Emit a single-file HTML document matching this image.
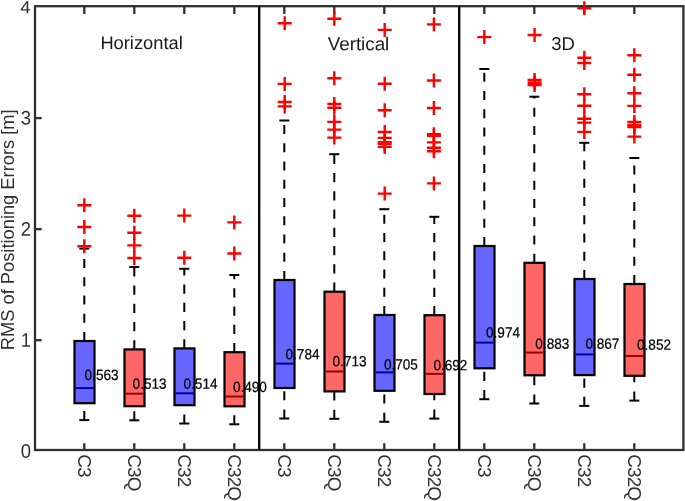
<!DOCTYPE html>
<html lang="en"><head><meta charset="utf-8"><title>RMS of Positioning Errors</title>
<style>html,body{margin:0;padding:0;background:#fff;overflow:hidden}svg{display:block}text{font-family:"Liberation Sans",Arial,Helvetica,sans-serif}</style>
</head><body>
<svg width="685" height="501" viewBox="0 0 685 501">
<rect width="685" height="501" fill="#fff"/>
<g stroke="#303030" stroke-width="2.3" fill="none">
<rect x="35.0" y="6.2" width="648.4" height="443.8"/>
<line x1="84.3" y1="450.0" x2="84.3" y2="443.2"/>
<line x1="84.3" y1="6.2" x2="84.3" y2="14.0"/>
<line x1="134.3" y1="450.0" x2="134.3" y2="443.2"/>
<line x1="134.3" y1="6.2" x2="134.3" y2="14.0"/>
<line x1="184.3" y1="450.0" x2="184.3" y2="443.2"/>
<line x1="184.3" y1="6.2" x2="184.3" y2="14.0"/>
<line x1="234.3" y1="450.0" x2="234.3" y2="443.2"/>
<line x1="234.3" y1="6.2" x2="234.3" y2="14.0"/>
<line x1="284.3" y1="450.0" x2="284.3" y2="443.2"/>
<line x1="284.3" y1="6.2" x2="284.3" y2="14.0"/>
<line x1="334.3" y1="450.0" x2="334.3" y2="443.2"/>
<line x1="334.3" y1="6.2" x2="334.3" y2="14.0"/>
<line x1="384.3" y1="450.0" x2="384.3" y2="443.2"/>
<line x1="384.3" y1="6.2" x2="384.3" y2="14.0"/>
<line x1="434.3" y1="450.0" x2="434.3" y2="443.2"/>
<line x1="434.3" y1="6.2" x2="434.3" y2="14.0"/>
<line x1="484.3" y1="450.0" x2="484.3" y2="443.2"/>
<line x1="484.3" y1="6.2" x2="484.3" y2="14.0"/>
<line x1="534.3" y1="450.0" x2="534.3" y2="443.2"/>
<line x1="534.3" y1="6.2" x2="534.3" y2="14.0"/>
<line x1="584.3" y1="450.0" x2="584.3" y2="443.2"/>
<line x1="584.3" y1="6.2" x2="584.3" y2="14.0"/>
<line x1="634.3" y1="450.0" x2="634.3" y2="443.2"/>
<line x1="634.3" y1="6.2" x2="634.3" y2="14.0"/>
<line x1="35.0" y1="340.20" x2="41.7" y2="340.20"/>
<line x1="35.0" y1="229.15" x2="41.7" y2="229.15"/>
<line x1="35.0" y1="118.10" x2="41.7" y2="118.10"/>
</g>
<g stroke="#000" stroke-width="2" fill="none">
<line x1="84.3" y1="341.0" x2="84.3" y2="248.6" stroke-dasharray="9.1 9.15"/>
<line x1="84.3" y1="420.1" x2="84.3" y2="403.2" stroke-dasharray="9.1 9.15"/>
<line x1="79.3" y1="248.6" x2="89.3" y2="248.6"/>
<line x1="79.3" y1="420.1" x2="89.3" y2="420.1"/>
</g>
<rect x="74.5" y="341.0" width="20" height="62.2" fill="#6666ff" stroke="#000" stroke-width="2.2"/>
<line x1="75.5" y1="388.1" x2="93.5" y2="388.1" stroke="#000099" stroke-width="2"/>
<g stroke="#000" stroke-width="2" fill="none">
<line x1="134.3" y1="349.4" x2="134.3" y2="267.0" stroke-dasharray="9.1 9.15"/>
<line x1="134.3" y1="420.3" x2="134.3" y2="406.2" stroke-dasharray="9.1 9.15"/>
<line x1="129.3" y1="267.0" x2="139.3" y2="267.0"/>
<line x1="129.3" y1="420.3" x2="139.3" y2="420.3"/>
</g>
<rect x="124.5" y="349.4" width="20" height="56.8" fill="#ff6666" stroke="#000" stroke-width="2.2"/>
<line x1="125.5" y1="393.7" x2="143.5" y2="393.7" stroke="#a00000" stroke-width="2"/>
<g stroke="#000" stroke-width="2" fill="none">
<line x1="184.3" y1="348.4" x2="184.3" y2="268.8" stroke-dasharray="9.1 9.15"/>
<line x1="184.3" y1="423.5" x2="184.3" y2="405.2" stroke-dasharray="9.1 9.15"/>
<line x1="179.3" y1="268.8" x2="189.3" y2="268.8"/>
<line x1="179.3" y1="423.5" x2="189.3" y2="423.5"/>
</g>
<rect x="174.5" y="348.4" width="20" height="56.8" fill="#6666ff" stroke="#000" stroke-width="2.2"/>
<line x1="175.5" y1="393.3" x2="193.5" y2="393.3" stroke="#000099" stroke-width="2"/>
<g stroke="#000" stroke-width="2" fill="none">
<line x1="234.3" y1="352.2" x2="234.3" y2="275.0" stroke-dasharray="9.1 9.15"/>
<line x1="234.3" y1="424.3" x2="234.3" y2="406.3" stroke-dasharray="9.1 9.15"/>
<line x1="229.3" y1="275.0" x2="239.3" y2="275.0"/>
<line x1="229.3" y1="424.3" x2="239.3" y2="424.3"/>
</g>
<rect x="224.5" y="352.2" width="20" height="54.1" fill="#ff6666" stroke="#000" stroke-width="2.2"/>
<line x1="225.5" y1="396.5" x2="243.5" y2="396.5" stroke="#a00000" stroke-width="2"/>
<g stroke="#000" stroke-width="2" fill="none">
<line x1="284.3" y1="280.0" x2="284.3" y2="120.5" stroke-dasharray="9.1 9.15"/>
<line x1="284.3" y1="418.5" x2="284.3" y2="388.0" stroke-dasharray="9.1 9.15"/>
<line x1="279.3" y1="120.5" x2="289.3" y2="120.5"/>
<line x1="279.3" y1="418.5" x2="289.3" y2="418.5"/>
</g>
<rect x="274.5" y="280.0" width="20" height="108.0" fill="#6666ff" stroke="#000" stroke-width="2.2"/>
<line x1="275.5" y1="363.6" x2="293.5" y2="363.6" stroke="#000099" stroke-width="2"/>
<g stroke="#000" stroke-width="2" fill="none">
<line x1="334.3" y1="291.7" x2="334.3" y2="154.2" stroke-dasharray="9.1 9.15"/>
<line x1="334.3" y1="418.8" x2="334.3" y2="391.4" stroke-dasharray="9.1 9.15"/>
<line x1="329.3" y1="154.2" x2="339.3" y2="154.2"/>
<line x1="329.3" y1="418.8" x2="339.3" y2="418.8"/>
</g>
<rect x="324.5" y="291.7" width="20" height="99.7" fill="#ff6666" stroke="#000" stroke-width="2.2"/>
<line x1="325.5" y1="371.5" x2="343.5" y2="371.5" stroke="#a00000" stroke-width="2"/>
<g stroke="#000" stroke-width="2" fill="none">
<line x1="384.3" y1="315.0" x2="384.3" y2="209.2" stroke-dasharray="9.1 9.15"/>
<line x1="384.3" y1="421.8" x2="384.3" y2="390.8" stroke-dasharray="9.1 9.15"/>
<line x1="379.3" y1="209.2" x2="389.3" y2="209.2"/>
<line x1="379.3" y1="421.8" x2="389.3" y2="421.8"/>
</g>
<rect x="374.5" y="315.0" width="20" height="75.8" fill="#6666ff" stroke="#000" stroke-width="2.2"/>
<line x1="375.5" y1="372.4" x2="393.5" y2="372.4" stroke="#000099" stroke-width="2"/>
<g stroke="#000" stroke-width="2" fill="none">
<line x1="434.3" y1="315.2" x2="434.3" y2="216.8" stroke-dasharray="9.1 9.15"/>
<line x1="434.3" y1="418.6" x2="434.3" y2="394.0" stroke-dasharray="9.1 9.15"/>
<line x1="429.3" y1="216.8" x2="439.3" y2="216.8"/>
<line x1="429.3" y1="418.6" x2="439.3" y2="418.6"/>
</g>
<rect x="424.5" y="315.2" width="20" height="78.8" fill="#ff6666" stroke="#000" stroke-width="2.2"/>
<line x1="425.5" y1="373.9" x2="443.5" y2="373.9" stroke="#a00000" stroke-width="2"/>
<g stroke="#000" stroke-width="2" fill="none">
<line x1="484.3" y1="246.0" x2="484.3" y2="69.0" stroke-dasharray="9.1 9.15"/>
<line x1="484.3" y1="399.2" x2="484.3" y2="368.3" stroke-dasharray="9.1 9.15"/>
<line x1="479.3" y1="69.0" x2="489.3" y2="69.0"/>
<line x1="479.3" y1="399.2" x2="489.3" y2="399.2"/>
</g>
<rect x="474.5" y="246.0" width="20" height="122.3" fill="#6666ff" stroke="#000" stroke-width="2.2"/>
<line x1="475.5" y1="342.6" x2="493.5" y2="342.6" stroke="#000099" stroke-width="2"/>
<g stroke="#000" stroke-width="2" fill="none">
<line x1="534.3" y1="262.8" x2="534.3" y2="96.7" stroke-dasharray="9.1 9.15"/>
<line x1="534.3" y1="403.5" x2="534.3" y2="375.3" stroke-dasharray="9.1 9.15"/>
<line x1="529.3" y1="96.7" x2="539.3" y2="96.7"/>
<line x1="529.3" y1="403.5" x2="539.3" y2="403.5"/>
</g>
<rect x="524.5" y="262.8" width="20" height="112.5" fill="#ff6666" stroke="#000" stroke-width="2.2"/>
<line x1="525.5" y1="352.6" x2="543.5" y2="352.6" stroke="#a00000" stroke-width="2"/>
<g stroke="#000" stroke-width="2" fill="none">
<line x1="584.3" y1="279.0" x2="584.3" y2="142.8" stroke-dasharray="9.1 9.15"/>
<line x1="584.3" y1="405.9" x2="584.3" y2="375.1" stroke-dasharray="9.1 9.15"/>
<line x1="579.3" y1="142.8" x2="589.3" y2="142.8"/>
<line x1="579.3" y1="405.9" x2="589.3" y2="405.9"/>
</g>
<rect x="574.5" y="279.0" width="20" height="96.1" fill="#6666ff" stroke="#000" stroke-width="2.2"/>
<line x1="575.5" y1="354.4" x2="593.5" y2="354.4" stroke="#000099" stroke-width="2"/>
<g stroke="#000" stroke-width="2" fill="none">
<line x1="634.3" y1="284.0" x2="634.3" y2="158.0" stroke-dasharray="9.1 9.15"/>
<line x1="634.3" y1="400.6" x2="634.3" y2="375.8" stroke-dasharray="9.1 9.15"/>
<line x1="629.3" y1="158.0" x2="639.3" y2="158.0"/>
<line x1="629.3" y1="400.6" x2="639.3" y2="400.6"/>
</g>
<rect x="624.5" y="284.0" width="20" height="91.8" fill="#ff6666" stroke="#000" stroke-width="2.2"/>
<line x1="625.5" y1="356.0" x2="643.5" y2="356.0" stroke="#a00000" stroke-width="2"/>
<g stroke="#ff0000" stroke-width="2.4" fill="none">
<path d="M77.3 205.3H91.3M84.3 198.3V212.3"/>
<path d="M77.3 227.0H91.3M84.3 220.0V234.0"/>
<path d="M77.3 246.2H91.3M84.3 239.2V253.2"/>
<path d="M127.3 215.7H141.3M134.3 208.7V222.7"/>
<path d="M127.3 232.7H141.3M134.3 225.7V239.7"/>
<path d="M127.3 245.4H141.3M134.3 238.4V252.4"/>
<path d="M127.3 258.0H141.3M134.3 251.0V265.0"/>
<path d="M177.3 215.6H191.3M184.3 208.6V222.6"/>
<path d="M177.3 257.8H191.3M184.3 250.8V264.8"/>
<path d="M227.3 222.4H241.3M234.3 215.4V229.4"/>
<path d="M227.3 253.5H241.3M234.3 246.5V260.5"/>
<path d="M277.7 23.2H291.7M284.7 16.2V30.2"/>
<path d="M277.7 83.9H291.7M284.7 76.9V90.9"/>
<path d="M277.7 102.0H291.7M284.7 95.0V109.0"/>
<path d="M277.7 106.4H291.7M284.7 99.4V113.4"/>
<path d="M327.3 18.7H341.3M334.3 11.7V25.7"/>
<path d="M327.3 78.2H341.3M334.3 71.2V85.2"/>
<path d="M327.3 104.0H341.3M334.3 97.0V111.0"/>
<path d="M327.3 107.7H341.3M334.3 100.7V114.7"/>
<path d="M327.3 121.9H341.3M334.3 114.9V128.9"/>
<path d="M327.3 129.6H341.3M334.3 122.6V136.6"/>
<path d="M327.3 137.6H341.3M334.3 130.6V144.6"/>
<path d="M377.7 29.9H391.7M384.7 22.9V36.9"/>
<path d="M377.7 83.8H391.7M384.7 76.8V90.8"/>
<path d="M377.7 110.2H391.7M384.7 103.2V117.2"/>
<path d="M377.7 132.0H391.7M384.7 125.0V139.0"/>
<path d="M377.7 137.9H391.7M384.7 130.9V144.9"/>
<path d="M377.7 142.3H391.7M384.7 135.3V149.3"/>
<path d="M377.7 143.8H391.7M384.7 136.8V150.8"/>
<path d="M377.7 146.9H391.7M384.7 139.9V153.9"/>
<path d="M377.7 193.6H391.7M384.7 186.6V200.6"/>
<path d="M426.9 24.4H440.9M433.9 17.4V31.4"/>
<path d="M426.9 80.5H440.9M433.9 73.5V87.5"/>
<path d="M426.9 108.0H440.9M433.9 101.0V115.0"/>
<path d="M426.9 134.3H440.9M433.9 127.3V141.3"/>
<path d="M426.9 135.9H440.9M433.9 128.9V142.9"/>
<path d="M426.9 142.4H440.9M433.9 135.4V149.4"/>
<path d="M426.9 147.8H440.9M433.9 140.8V154.8"/>
<path d="M426.9 151.2H440.9M433.9 144.2V158.2"/>
<path d="M426.9 183.4H440.9M433.9 176.4V190.4"/>
<path d="M477.3 37.1H491.3M484.3 30.1V44.1"/>
<path d="M527.6 35.0H541.6M534.6 28.0V42.0"/>
<path d="M527.6 80.0H541.6M534.6 73.0V87.0"/>
<path d="M527.6 82.8H541.6M534.6 75.8V89.8"/>
<path d="M527.6 85.1H541.6M534.6 78.1V92.1"/>
<path d="M577.3 8.3H591.3M584.3 1.3V15.3"/>
<path d="M577.3 57.7H591.3M584.3 50.7V64.7"/>
<path d="M577.3 63.0H591.3M584.3 56.0V70.0"/>
<path d="M577.3 94.2H591.3M584.3 87.2V101.2"/>
<path d="M577.3 105.7H591.3M584.3 98.7V112.7"/>
<path d="M577.3 118.8H591.3M584.3 111.8V125.8"/>
<path d="M577.3 122.6H591.3M584.3 115.6V129.6"/>
<path d="M577.3 131.9H591.3M584.3 124.9V138.9"/>
<path d="M627.3 55.2H641.3M634.3 48.2V62.2"/>
<path d="M627.3 74.8H641.3M634.3 67.8V81.8"/>
<path d="M627.3 93.2H641.3M634.3 86.2V100.2"/>
<path d="M627.3 105.9H641.3M634.3 98.9V112.9"/>
<path d="M627.3 122.0H641.3M634.3 115.0V129.0"/>
<path d="M627.3 125.3H641.3M634.3 118.3V132.3"/>
<path d="M627.3 127.0H641.3M634.3 120.0V134.0"/>
<path d="M627.3 136.6H641.3M634.3 129.6V143.6"/>
</g>
<g stroke="#000" stroke-width="2.3">
<line x1="259.2" y1="6.2" x2="259.2" y2="450.0"/>
<line x1="459.2" y1="6.2" x2="459.2" y2="450.0"/>
</g>
<g fill="#303030" font-size="18.5px" text-anchor="end">
<text transform="translate(31.0 457.8) rotate(0.03) scale(1 1.06)">0</text>
<text transform="translate(31.0 346.7) rotate(0.03) scale(1 1.06)">1</text>
<text transform="translate(31.0 235.7) rotate(0.03) scale(1 1.06)">2</text>
<text transform="translate(31.0 124.6) rotate(0.03) scale(1 1.06)">3</text>
<text transform="translate(30.6 13.3) rotate(0.03) scale(1 0.95)">4</text>
</g>
<text transform="translate(14 229.8) rotate(-90)" text-anchor="middle" font-size="18.3px" fill="#303030">RMS of Positioning Errors [m]</text>
<g fill="#303030" font-size="19px" letter-spacing="-0.9px">
<text transform="translate(78.2 454.2) rotate(90)">C3</text>
<text transform="translate(128.2 454.2) rotate(90)">C3Q</text>
<text transform="translate(178.2 454.2) rotate(90)">C32</text>
<text transform="translate(228.2 454.2) rotate(90)">C32Q</text>
<text transform="translate(278.2 454.2) rotate(90)">C3</text>
<text transform="translate(328.2 454.2) rotate(90)">C3Q</text>
<text transform="translate(378.2 454.2) rotate(90)">C32</text>
<text transform="translate(428.2 454.2) rotate(90)">C32Q</text>
<text transform="translate(478.2 454.2) rotate(90)">C3</text>
<text transform="translate(528.2 454.2) rotate(90)">C3Q</text>
<text transform="translate(578.2 454.2) rotate(90)">C32</text>
<text transform="translate(628.2 454.2) rotate(90)">C32Q</text>
</g>
<g fill="#1a1a1a">
<text transform="translate(100.4 48.9) rotate(0.03)" font-size="18.3px">Horizontal</text>
<text transform="translate(327.7 50.2) rotate(0.03)" font-size="18.8px">Vertical</text>
<text transform="translate(551.2 50.0) rotate(0.03)" font-size="18.5px">3D</text>
</g>
<g fill="#000" stroke="#000" stroke-width="0.2" font-size="13.6px">
<text transform="translate(84.6 379.9) rotate(0.03) scale(1 1.09)">0.563</text>
<text transform="translate(132.6 388.8) rotate(0.03) scale(1 1.09)">0.513</text>
<text transform="translate(183.5 388.8) rotate(0.03) scale(1 1.09)">0.514</text>
<text transform="translate(232.9 392.1) rotate(0.03) scale(1 1.09)">0.490</text>
<text transform="translate(285.5 359.2) rotate(0.03) scale(1 1.09)">0.784</text>
<text transform="translate(332.6 366.3) rotate(0.03) scale(1 1.09)">0.713</text>
<text transform="translate(383.9 369.6) rotate(0.03) scale(1 1.09)">0.705</text>
<text transform="translate(433.4 370.3) rotate(0.03) scale(1 1.09)">0.692</text>
<text transform="translate(486.0 337.4) rotate(0.03) scale(1 1.09)">0.974</text>
<text transform="translate(535.3 348.8) rotate(0.03) scale(1 1.09)">0.883</text>
<text transform="translate(585.4 348.8) rotate(0.03) scale(1 1.09)">0.867</text>
<text transform="translate(637.0 349.7) rotate(0.03) scale(1 1.09)">0.852</text>
</g>
</svg>
</body></html>
